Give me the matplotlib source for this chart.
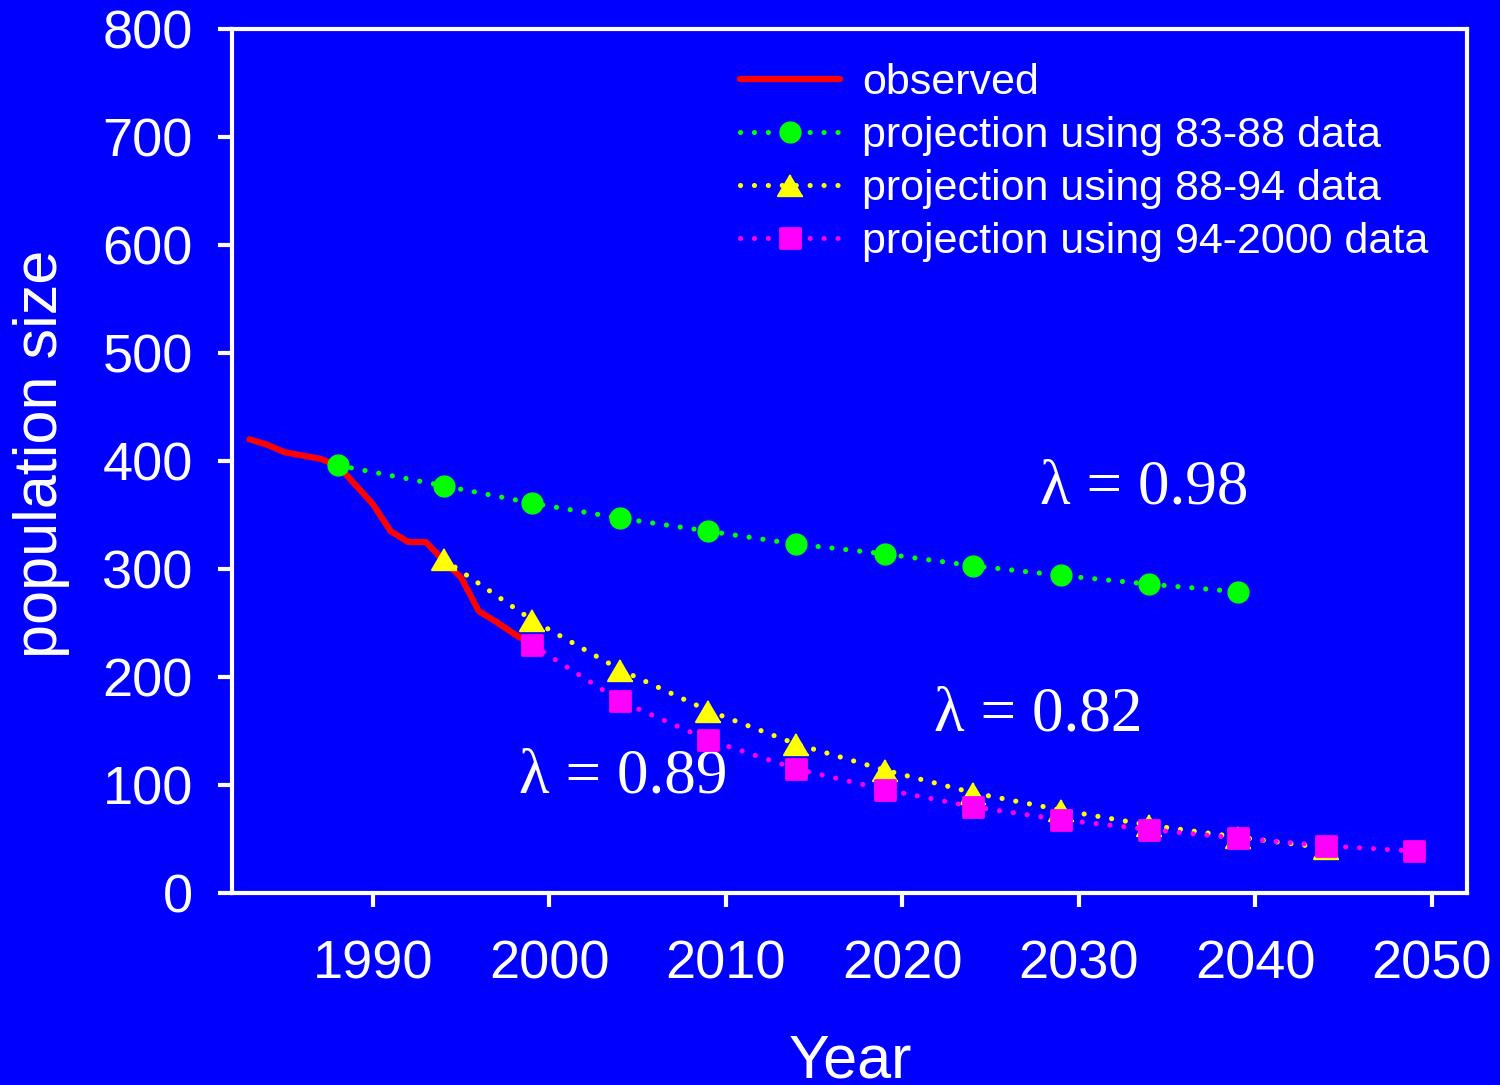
import matplotlib
matplotlib.use("Agg")
import matplotlib.pyplot as plt
from matplotlib.markers import MarkerStyle

# Observed population counts
obs_years = [1983, 1984, 1985, 1986, 1987, 1988, 1989, 1990, 1991, 1992,
             1993, 1994, 1995, 1996, 1997, 1998, 1999]
obs_size = [420, 415, 408, 405, 402, 396, 378, 360, 335, 325,
            325, 308, 292, 261, 251, 240, 230]

# Projections from three different periods of data
proj_a_years = [1988, 1994, 1999, 2004, 2009, 2014, 2019, 2024, 2029, 2034, 2039]
proj_a_size = [396, 377, 361, 347, 335, 323, 314, 303, 294, 286, 279]

proj_b_years = [1994, 1999, 2004, 2009, 2014, 2019, 2024, 2029, 2034, 2039, 2044]
proj_b_size = [309, 253, 207, 169, 138, 114, 93, 77, 63, 52, 42]

proj_c_years = [1999, 2004, 2009, 2014, 2019, 2024, 2029, 2034, 2039, 2044, 2049]
proj_c_size = [230, 178, 142, 115, 96, 80, 68, 59, 51, 44, 39]

labels = ["observed", "projection using 83-88 data",
          "projection using 88-94 data", "projection using 94-2000 data"]
x_ticks = [1990, 2000, 2010, 2020, 2030, 2040, 2050]
y_ticks = [0, 100, 200, 300, 400, 500, 600, 700, 800]

BG = "#0000FF"
plt.rcParams["font.family"] = ["Liberation Sans", "DejaVu Sans"]

fig = plt.figure(figsize=(15, 10.85), dpi=100, facecolor=BG)
ax = fig.add_axes([0.1545, 0.1767, 0.978 - 0.1545, 0.9737 - 0.1767])
ax.set_facecolor(BG)

dots = (0, (0.01, 2.7))
common = dict(linestyle=dots, lw=3.7, dash_capstyle="round")

tri = MarkerStyle([(0, 0.85), (-1, -0.85), (1, -0.85)], joinstyle="round")
sq = MarkerStyle("s", joinstyle="round")

ax.plot(obs_years, obs_size, color="#FF0000", lw=4.5,
        solid_capstyle="round", solid_joinstyle="round", label=labels[0], zorder=2)
ax.plot(proj_a_years, proj_a_size, color="#00FF00", marker="o", ms=15,
        mec="#00FF00", mew=1, label=labels[1], zorder=3, **common)
ax.plot(proj_b_years, proj_b_size, color="#FFFF00", marker=tri, ms=18,
        mec="#FFFF00", mew=1.5, label=labels[2], zorder=4, **common)
ax.plot(proj_c_years, proj_c_size, color="#FF00FF", marker=sq, ms=15,
        mec="#FF00FF", mew=2, label=labels[3], zorder=5, **common)

ax.set_xlim(1982, 2052)
ax.set_ylim(0, 800)
ax.set_xticks(x_ticks)
ax.set_yticks(y_ticks)

for s in ax.spines.values():
    s.set_color("white")
    s.set_linewidth(3)

ax.tick_params(axis="both", colors="white", width=3, length=10,
               labelsize=39, direction="out")
ax.tick_params(axis="x", pad=23)
ax.tick_params(axis="y", pad=18)

# Growth-rate annotations
serif = dict(family=["Liberation Serif", "DejaVu Serif"], fontsize=45.5,
             color="white", ha="left", va="baseline")
ax.text(2027.8, 361, "λ = 0.98", **serif)
ax.text(2021.8, 151, "λ = 0.82", **serif)
ax.text(1998.3, 93, "λ = 0.89", **serif)

fig.text(0.0277, 0.582, "population size", rotation=90, color="white",
         fontsize=44, ha="center", va="center")
fig.text(0.5667, 7 / 1085, "Year", color="white", fontsize=44,
         ha="center", va="baseline")

leg = fig.legend(loc="upper left", bbox_to_anchor=(740 / 1500, 1 - 63 / 1085),
                 frameon=False, fontsize=31, handlelength=2.33,
                 handletextpad=0.5, labelspacing=0.3, borderpad=0,
                 borderaxespad=0, numpoints=1, labelcolor="white")

fig.savefig("out.png", dpi=100, facecolor=BG)
